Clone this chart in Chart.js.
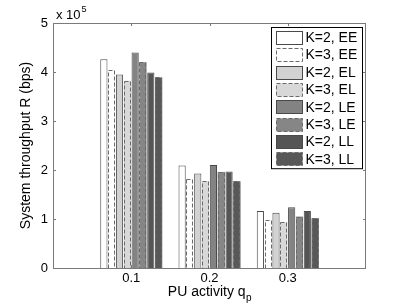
<!DOCTYPE html>
<html lang="en">
<head>
  <meta charset="UTF-8">
  <title>System throughput vs PU activity</title>
  <script src="https://cdn.jsdelivr.net/npm/chart.js"></script>
  <style>
    html, body { margin: 0; padding: 0; background: #fff; }
  </style>
</head>
<body>
  <canvas id="chart" width="407" height="306"></canvas>

  <script>
    // PU activity values (x categories)
    const puActivity = [0.1, 0.2, 0.3];

    // system throughput in bps
    const k2EE = [426000, 209000, 116500];
    const k3EE = [404000, 181000, 97500];
    const k2EL = [395000, 193000, 113000];
    const k3EL = [382000, 177000, 93000];
    const k2LE = [440000, 210000, 124000];
    const k3LE = [420000, 196000, 105000];
    const k2LL = [399000, 197000, 116500];
    const k3LL = [389000, 177000, 101500];

    const yTicks = [0, 1, 2, 3, 4, 5];
    const yExponent = 5;

    function series(label, values, fill, dashed) {
      return {
        label: label,
        data: puActivity.map((q, i) => ({ x: q, y: values[i] })),
        backgroundColor: fill,
        borderColor: dashed ? fill : '#4a4a4a',
        borderWidth: dashed ? 0 : 1,
        dashed: dashed
      };
    }

    const datasets = [
      series('K=2, EE', k2EE, '#ffffff', false),
      series('K=3, EE', k3EE, '#ffffff', true),
      series('K=2, EL', k2EL, '#d2d2d2', false),
      series('K=3, EL', k3EL, '#d8d8d8', true),
      series('K=2, LE', k2LE, '#838383', false),
      series('K=3, LE', k3LE, '#868686', true),
      series('K=2, LL', k2LL, '#555555', false),
      series('K=3, LL', k3LL, '#585858', true)
    ];

    // dashed outlines, axis box, titles, legend
    const matlabLook = {
      id: 'matlabLook',
      afterDatasetsDraw(chart) {
        const ctx = chart.ctx;
        ctx.save();
        chart.data.datasets.forEach((ds, i) => {
          if (!ds.dashed) return;
          chart.getDatasetMeta(i).data.forEach(bar => {
            const left = bar.x - bar.width / 2;
            const top = Math.min(bar.y, bar.base);
            const h = Math.abs(bar.base - bar.y);
            ctx.strokeStyle = '#6a6a6a';
            ctx.lineWidth = 1;
            ctx.setLineDash([4, 2]);
            ctx.strokeRect(Math.round(left) + 0.5, Math.round(top) + 0.5, Math.round(bar.width) - 1, Math.round(h));
          });
        });
        ctx.restore();
      },
      afterDraw(chart) {
        const ctx = chart.ctx;
        const ca = chart.chartArea;
        const xs = chart.scales.x, ys = chart.scales.y;
        ctx.save();

        // axis box
        ctx.strokeStyle = '#7a7a7a';
        ctx.lineWidth = 1;
        ctx.strokeRect(ca.left + 0.5, ca.top + 0.5, ca.right - ca.left - 1, ca.bottom - ca.top);

        // inner tick marks
        ctx.beginPath();
        puActivity.forEach(q => {
          const px = Math.round(xs.getPixelForValue(q)) + 0.5;
          ctx.moveTo(px, ca.bottom); ctx.lineTo(px, ca.bottom - 3);
          ctx.moveTo(px, ca.top); ctx.lineTo(px, ca.top + 3);
        });
        yTicks.forEach(t => {
          const py = Math.round(ys.getPixelForValue(t * Math.pow(10, yExponent))) + 0.5;
          ctx.moveTo(ca.left, py); ctx.lineTo(ca.left + 3, py);
          ctx.moveTo(ca.right, py); ctx.lineTo(ca.right - 3, py);
        });
        ctx.stroke();

        ctx.fillStyle = '#000';
        ctx.font = '14px "Liberation Sans", Arial, sans-serif';

        // x title with subscript
        const main = 'PU activity q';
        const sub = 'p';
        const wMain = ctx.measureText(main).width;
        ctx.font = '10px "Liberation Sans", Arial, sans-serif';
        const wSub = ctx.measureText(sub).width;
        const cx = (ca.left + ca.right) / 2;
        const startX = cx - (wMain + wSub) / 2;
        ctx.font = '14px "Liberation Sans", Arial, sans-serif';
        ctx.textBaseline = 'alphabetic';
        ctx.textAlign = 'left';
        ctx.fillText(main, startX, 296);
        ctx.font = '10px "Liberation Sans", Arial, sans-serif';
        ctx.fillText(sub, startX + wMain + 0.5, 301);

        // y title
        ctx.save();
        ctx.translate(30, (ca.top + ca.bottom) / 2);
        ctx.rotate(-Math.PI / 2);
        ctx.textAlign = 'center';
        ctx.font = '14px "Liberation Sans", Arial, sans-serif';
        ctx.fillText('System throughput R (bps)', 0, 0);
        ctx.restore();

        // exponent label
        ctx.font = '13px "Liberation Sans", Arial, sans-serif';
        ctx.fillText('x 10', ca.left + 3, ca.top - 4);
        const w10 = ctx.measureText('x 10').width;
        ctx.font = '9px "Liberation Sans", Arial, sans-serif';
        ctx.fillText(String(yExponent), ca.left + 4 + w10, ca.top - 11);

        // legend
        const rowH = 17.4;
        const lw = 91, lh = rowH * datasets.length + 2;
        const lx = ca.right - 94.5, ly = ca.top + 4.5;
        ctx.fillStyle = '#fff';
        ctx.fillRect(lx, ly, lw, lh);
        ctx.strokeStyle = '#000';
        ctx.setLineDash([]);
        ctx.strokeRect(lx, ly, lw, lh);
        chart.data.datasets.forEach((ds, i) => {
          const cy = ly + 1 + rowH * i + rowH / 2;
          const sx = lx + 5, sy = Math.round(cy - 6.5) + 0.5;
          ctx.fillStyle = ds.backgroundColor;
          ctx.fillRect(sx, sy, 26, 13);
          ctx.strokeStyle = ds.dashed ? '#6a6a6a' : '#4a4a4a';
          ctx.setLineDash(ds.dashed ? [4, 2] : []);
          ctx.strokeRect(sx, sy, 26, 13);
          ctx.setLineDash([]);
          ctx.fillStyle = '#000';
          ctx.font = '14px "Liberation Sans", Arial, sans-serif';
          ctx.textBaseline = 'middle';
          ctx.fillText(ds.label, sx + 29, cy + 1);
        });
        ctx.restore();
      }
    };

    new Chart(document.getElementById('chart'), {
      type: 'bar',
      data: { datasets: datasets },
      options: {
        responsive: false,
        animation: false,
        devicePixelRatio: 1,
        layout: { padding: { top: 23, right: 41, left: 0, bottom: 0 } },
        datasets: { bar: { categoryPercentage: 0.8, barPercentage: 0.92 } },
        plugins: {
          legend: { display: false },
          tooltip: { enabled: false }
        },
        scales: {
          x: {
            type: 'linear',
            offset: false,
            min: 0,
            max: 0.4,
            afterBuildTicks: s => { s.ticks = puActivity.map(v => ({ value: v })); },
            afterFit: s => { s.height = 38; },
            grid: { display: false, drawTicks: false },
            border: { display: false },
            ticks: {
              color: '#000',
              padding: 3,
              font: { family: '"Liberation Sans", Arial, sans-serif', size: 13 },
              callback: v => v.toFixed(1)
            }
          },
          y: {
            min: 0,
            max: 5 * Math.pow(10, yExponent),
            afterBuildTicks: s => { s.ticks = yTicks.map(t => ({ value: t * Math.pow(10, yExponent) })); },
            afterFit: s => { s.width = 53; },
            grid: { display: false, drawTicks: false },
            border: { display: false },
            ticks: {
              color: '#000',
              padding: 5,
              font: { family: '"Liberation Sans", Arial, sans-serif', size: 13 },
              callback: v => String(v / Math.pow(10, yExponent))
            }
          }
        }
      },
      plugins: [matlabLook]
    });
  </script>
</body>
</html>
